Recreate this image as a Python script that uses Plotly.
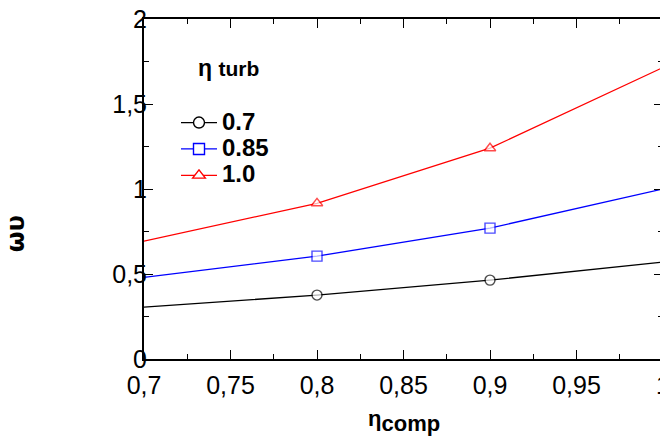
import plotly.graph_objects as go

eta_comp = [0.7, 0.8, 0.9, 1.0]
series_names = ["0.7", "0.85", "1.0"]
y_07 = [0.305, 0.376, 0.464, 0.57]
y_085 = [0.48, 0.605, 0.77, 1.0]
y_10 = [0.693, 0.916, 1.24, 1.715]
x_ticks = [0.7, 0.75, 0.8, 0.85, 0.9, 0.95, 1.0]
y_ticks = [0, 0.5, 1, 1.5, 2]

series = [y_07, y_085, y_10]
colors = ["black", "blue", "red"]
symbols = ["circle", "square", "triangle-up"]
msize = [0, 10, 10, 0]

FONT = "Liberation Sans, Arial"
OFF = 8  # page body margin

fig = go.Figure()
for name, ys, c, s in zip(series_names, series, colors, symbols):
    fig.add_trace(go.Scatter(
        x=eta_comp, y=ys, mode="lines+markers", showlegend=False,
        line=dict(color=c, width=1.3),
        marker=dict(symbol=s, size=msize, color="white", line=dict(color=c, width=1.4)),
        cliponaxis=False,
    ))
# legend entries
for name, c, s in zip(series_names, colors, symbols):
    fig.add_trace(go.Scatter(
        x=[None], y=[None], mode="lines+markers",
        name="<b><span style='font-size:24px'>" + name + "</span></b>",
        line=dict(color=c, width=1.3),
        marker=dict(symbol=s, size=11, color="white", line=dict(color=c, width=1.4)),
    ))

axis_common = dict(
    showgrid=False, zeroline=False, showline=True, linecolor="black", linewidth=2,
    mirror="ticks", ticks="inside", ticklen=9, tickwidth=1.3, tickcolor="black",
    tickfont=dict(family=FONT, size=25, color="black"),
    automargin=False, ticklabeloverflow="allow",
)
fig.update_xaxes(range=[0.7, 1.0], tickvals=x_ticks, ticklabelstandoff=3,
                 minor=dict(ticks="inside", ticklen=5, dtick=0.025, tickcolor="black", tickwidth=1.3),
                 **axis_common)
fig.update_yaxes(range=[0, 2], tickvals=y_ticks, ticklabelstandoff=-10,
                 minor=dict(ticks="inside", ticklen=5, dtick=0.25, tickcolor="black", tickwidth=1.3),
                 **axis_common)

# plot area in page pixels
L, R, T, B = 144, 663, 18.5, 359


def px(xp):
    return (xp - L) / (R - L)


def py(yp):
    return (B - yp) / (B - T)


# x axis title
fig.add_annotation(
    x=px(404), y=py(421), xref="paper", yref="paper", xanchor="center", yanchor="middle",
    text="<b>η<sub><span style='font-size:22px'>comp</span></sub></b>", showarrow=False,
    font=dict(family=FONT, size=22, color="black"),
)
# legend title
fig.add_annotation(
    x=px(196), y=py(68), xref="paper", yref="paper", xanchor="left", yanchor="middle",
    text="<b>η <span style='font-size:21px'>turb</span></b>", showarrow=False,
    font=dict(family=FONT, size=23, color="black"),
)
# y axis title
fig.add_annotation(
    x=px(16), y=py(234), xref="paper", yref="paper", xanchor="center", yanchor="middle",
    text="<b>ωυ</b>", textangle=-90, showarrow=False,
    font=dict(family="DejaVu Sans", size=24, color="black"),
)

fig.update_layout(
    width=668, height=436,
    margin=dict(l=L - OFF, r=668 - R + OFF, t=T - OFF, b=436 - B + OFF),
    paper_bgcolor="white", plot_bgcolor="white",
    separators=",.",
    showlegend=True,
    legend=dict(x=px(176), y=py(104), xanchor="left", yanchor="top",
                bgcolor="rgba(0,0,0,0)",
                font=dict(family=FONT, size=18, color="black"),
                tracegroupgap=0, itemwidth=36),
)

fig.write_html("out.html")
